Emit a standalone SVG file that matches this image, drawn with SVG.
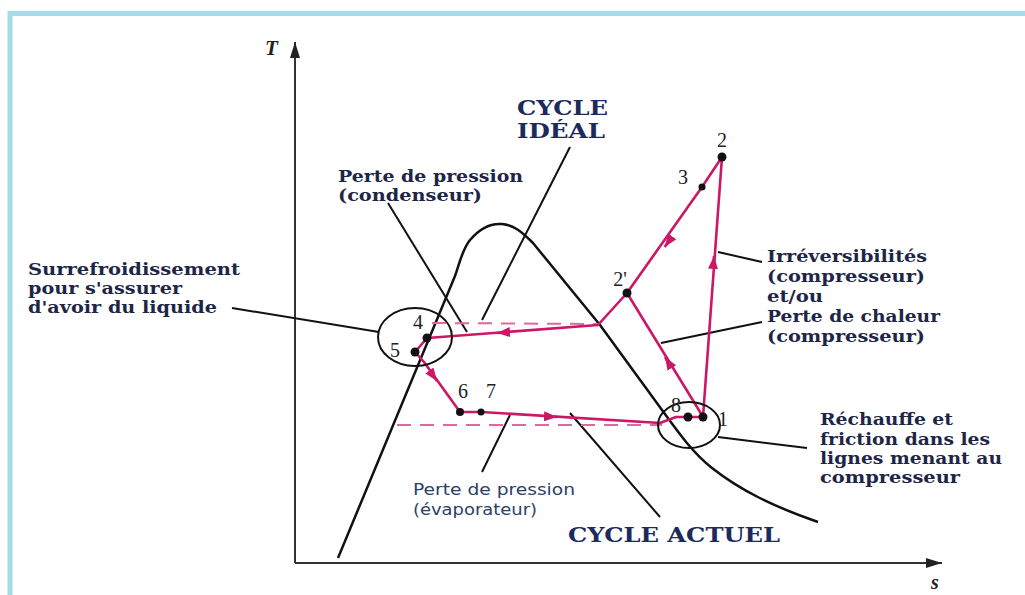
<svg xmlns="http://www.w3.org/2000/svg" width="1025" height="595" viewBox="0 0 1025 595">
<defs>
<marker id="pa" markerUnits="userSpaceOnUse" markerWidth="13" markerHeight="10" viewBox="0 0 13 10" refX="13" refY="5" orient="auto"><path d="M0,0 L13,5 L0,10 z" fill="#cc1766"/></marker>
<marker id="ka" markerUnits="userSpaceOnUse" markerWidth="16" markerHeight="10" viewBox="0 0 16 10" refX="16" refY="5" orient="auto"><path d="M0,0 L16,5 L0,10 z" fill="#222"/></marker>
<style>
.frame{fill:none;stroke:#a3dbe9;stroke-width:5}
.axis{fill:none;stroke:#333;stroke-width:2}
.dome{fill:none;stroke:#111;stroke-width:2.5;stroke-linejoin:round}
.ptr{fill:none;stroke:#111;stroke-width:2}
.cyc{fill:none;stroke:#cc1766;stroke-width:2.6;stroke-linejoin:round}
.dash{fill:none;stroke:#dc6a9e;stroke-width:2;stroke-dasharray:14 9}
.arr{fill:none;stroke:#cc1766;stroke-width:2.6}
.dot{fill:#111}
.bl{font-family:"DejaVu Serif",serif;font-weight:bold;font-size:16px;fill:#1e2647}
.big{font-family:"DejaVu Serif",serif;font-weight:bold;font-size:21px;fill:#1c2a5c}
.sans{font-family:"DejaVu Sans",sans-serif;font-size:15px;fill:#2b3f68}
.num{font-family:"Liberation Serif",serif;font-size:20px;fill:#222}
.ax{font-family:"Liberation Serif",serif;font-style:italic;font-weight:bold;fill:#222}
</style>
</defs>
<rect x="0" y="0" width="1025" height="595" fill="#fff"/>
<path class="frame" d="M10,595 L10,13.5 L1025,13.5"/>

<g id="axes">
<line class="axis" x1="295" y1="563" x2="295" y2="42" marker-end="url(#ka)"/>
<line class="axis" x1="295" y1="563" x2="942" y2="563" marker-end="url(#ka)"/>
<text class="ax" x="265" y="55" font-size="21">T</text>
<text class="ax" x="931" y="589" font-size="20">s</text>
</g>

<g id="dome">
<path class="dome" d="M338,558 L455,276 C460,262 462,250 470,240 C480,228 490,223 502,224 C514,225 522,232 533,243 L600,325 L662,410 C678,432 692,452 712,468 C740,490 772,506 818,522"/>
</g>

<g id="connectors">
<line class="ptr" x1="388" y1="203" x2="467" y2="332"/>
<line class="ptr" x1="570" y1="147" x2="482" y2="320"/>
<line class="ptr" x1="232" y1="308" x2="379" y2="332"/>
<line class="ptr" x1="718" y1="252" x2="762" y2="262"/>
<line class="ptr" x1="661" y1="343" x2="762" y2="322"/>
<line class="ptr" x1="510" y1="415" x2="482" y2="472"/>
<line class="ptr" x1="570" y1="413" x2="660" y2="517"/>
<line class="ptr" x1="718" y1="437" x2="807" y2="448"/>
</g>

<g id="ideal-dashes">
<line class="dash" x1="432" y1="323" x2="598" y2="324"/>
<line class="dash" x1="397" y1="425" x2="662" y2="425"/>
</g>

<g id="cycle">
<path class="cyc" d="M722,157 L702,187 L627,293 L598,325 L427,338 L415,352 L424,362 L460,412 L481,412 L660,423 L676,417 L688,417 L703,417 L722,157"/>
<path class="cyc" d="M627,293 L697,407 L703,417"/>
<line class="arr" x1="671.6" y1="237.2" x2="664.7" y2="247" marker-end="url(#pa)"/>
<line class="arr" x1="713.1" y1="268" x2="714" y2="256" marker-end="url(#pa)"/>
<line class="arr" x1="671.3" y1="367.2" x2="665" y2="357" marker-end="url(#pa)"/>
<line class="arr" x1="509" y1="332.1" x2="497" y2="333" marker-end="url(#pa)"/>
<line class="arr" x1="430" y1="371.3" x2="437" y2="381" marker-end="url(#pa)"/>
<line class="arr" x1="545" y1="416.3" x2="557" y2="417" marker-end="url(#pa)"/>
</g>

<g id="circles">
<ellipse cx="415" cy="337" rx="37" ry="29" fill="none" stroke="#111" stroke-width="2"/>
<ellipse cx="689" cy="425" rx="31" ry="23" fill="none" stroke="#111" stroke-width="2"/>
</g>

<g id="points">
<circle class="dot" cx="722" cy="157" r="4.5"/>
<circle class="dot" cx="702" cy="187" r="3.5"/>
<circle class="dot" cx="627" cy="293" r="4.5"/>
<circle class="dot" cx="427" cy="338" r="4.5"/>
<circle class="dot" cx="415" cy="352" r="4.5"/>
<circle class="dot" cx="460" cy="412" r="4"/>
<circle class="dot" cx="481" cy="412" r="3.5"/>
<circle class="dot" cx="688" cy="417" r="4.5"/>
<circle class="dot" cx="703" cy="417" r="4.5"/>
<text class="num" x="722" y="147" text-anchor="middle">2</text>
<text class="num" x="683" y="184" text-anchor="middle">3</text>
<text class="num" x="620" y="286" text-anchor="middle">2'</text>
<text class="num" x="418" y="329" text-anchor="middle">4</text>
<text class="num" x="395" y="357" text-anchor="middle">5</text>
<text class="num" x="463" y="398" text-anchor="middle">6</text>
<text class="num" x="491" y="398" text-anchor="middle">7</text>
<text class="num" x="676" y="412" text-anchor="middle">8</text>
<text class="num" x="723" y="426" text-anchor="middle">1</text>
</g>

<g id="label-ideal">
<text class="big" x="517" y="115" textLength="91" lengthAdjust="spacingAndGlyphs">CYCLE</text>
<text class="big" x="517" y="138" textLength="88" lengthAdjust="spacingAndGlyphs">IDÉAL</text>
</g>
<g id="label-cond">
<text class="bl" x="338" y="182" textLength="185" lengthAdjust="spacingAndGlyphs">Perte de pression</text>
<text class="bl" x="338" y="201" textLength="144" lengthAdjust="spacingAndGlyphs">(condenseur)</text>
</g>
<g id="label-sub">
<text class="bl" x="28" y="275" textLength="212" lengthAdjust="spacingAndGlyphs">Surrefroidissement</text>
<text class="bl" x="28" y="294" textLength="154" lengthAdjust="spacingAndGlyphs">pour s'assurer</text>
<text class="bl" x="28" y="313" textLength="189" lengthAdjust="spacingAndGlyphs">d'avoir du liquide</text>
</g>
<g id="label-irr">
<text class="bl" x="767" y="262" textLength="160" lengthAdjust="spacingAndGlyphs">Irréversibilités</text>
<text class="bl" x="767" y="282" textLength="158" lengthAdjust="spacingAndGlyphs">(compresseur)</text>
<text class="bl" x="767" y="302" textLength="56" lengthAdjust="spacingAndGlyphs">et/ou</text>
<text class="bl" x="767" y="322" textLength="173" lengthAdjust="spacingAndGlyphs">Perte de chaleur</text>
<text class="bl" x="767" y="342" textLength="158" lengthAdjust="spacingAndGlyphs">(compresseur)</text>
</g>
<g id="label-rech">
<text class="bl" x="820" y="425" textLength="133" lengthAdjust="spacingAndGlyphs">Réchauffe et</text>
<text class="bl" x="820" y="445" textLength="170" lengthAdjust="spacingAndGlyphs">friction dans les</text>
<text class="bl" x="820" y="464" textLength="182" lengthAdjust="spacingAndGlyphs">lignes menant au</text>
<text class="bl" x="820" y="483" textLength="140" lengthAdjust="spacingAndGlyphs">compresseur</text>
</g>
<g id="label-evap">
<text class="sans" x="413" y="495" textLength="162" lengthAdjust="spacingAndGlyphs">Perte de pression</text>
<text class="sans" x="413" y="515" textLength="124" lengthAdjust="spacingAndGlyphs">(évaporateur)</text>
</g>
<g id="label-actuel">
<text class="big" x="568" y="542" textLength="212" lengthAdjust="spacingAndGlyphs">CYCLE ACTUEL</text>
</g>
</svg>
